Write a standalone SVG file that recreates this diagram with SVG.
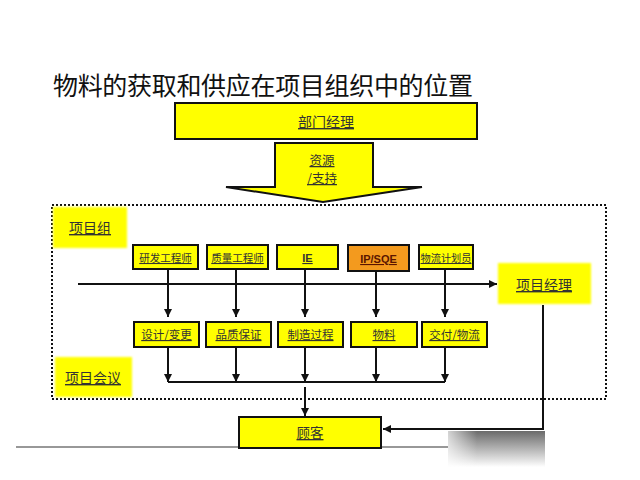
<svg xmlns="http://www.w3.org/2000/svg" width="640" height="480" viewBox="0 0 640 480">
<defs>
<style>
.t{font-family:"Noto Sans CJK SC","Liberation Sans",sans-serif;fill:#333;text-anchor:middle;text-decoration:underline;}
.box{fill:#ffff00;stroke:#111;stroke-width:2;}
.soft{fill:#ffff00;filter:url(#blur);}
.ln{fill:none;stroke:#111;stroke-width:2;}
</style>
<filter id="blur" x="-10%" y="-10%" width="120%" height="120%"><feGaussianBlur stdDeviation="1.2"/></filter>
<marker id="ah" viewBox="0 0 10 10" refX="10" refY="5" markerWidth="8" markerHeight="8" markerUnits="userSpaceOnUse" orient="auto"><path d="M0,0 L10,5 L0,10 Z" fill="#111"/></marker>
<linearGradient id="sh" x1="0" y1="0" x2="0" y2="1"><stop offset="0" stop-color="#6a6a6a"/><stop offset="1" stop-color="#ffffff"/></linearGradient>
<linearGradient id="shx" x1="0" y1="0" x2="1" y2="0"><stop offset="0" stop-color="#fff" stop-opacity="0.7"/><stop offset="0.3" stop-color="#fff" stop-opacity="0"/></linearGradient>
</defs>
<rect width="640" height="480" fill="#fff"/>
<text x="53" y="95" font-family="'Noto Sans CJK SC',sans-serif" font-size="25" fill="#111" textLength="420">物料的获取和供应在项目组织中的位置</text>

<line x1="16" y1="447" x2="448" y2="447" stroke="#333" stroke-width="1.2"/>
<g id="shadow"><rect x="448" y="431" width="97" height="36" fill="url(#sh)"/><rect x="448" y="431" width="97" height="36" fill="url(#shx)"/></g>

<rect x="52" y="205" width="554" height="194" fill="none" stroke="#111" stroke-width="2" stroke-dasharray="2,2"/>

<g id="dept"><rect class="box" x="175" y="103" width="302" height="36"/><text class="t" x="326" y="127" font-size="14">部门经理</text></g>
<g id="support"><path d="M275,143 H373 V187 H422 L323,202 L226,187 H275 Z" class="box"/><text class="t" x="322" y="165" font-size="12.5">资源</text><text class="t" x="322" y="183" font-size="12.5">/支持</text></g>

<g id="grp"><rect class="soft" x="53" y="207" width="74" height="41"/><text class="t" x="90" y="233" font-size="14">项目组</text></g>
<g id="meet"><rect class="soft" x="55" y="357" width="77" height="40"/><text class="t" x="93" y="383" font-size="14">项目会议</text></g>
<g id="pm"><rect class="soft" x="498" y="263" width="93" height="41"/><text class="t" x="544" y="290" font-size="14">项目经理</text></g>

<g id="connectors">
<path class="ln" d="M78,284 H497" marker-end="url(#ah)"/>
<path class="ln" d="M168,269 V317" marker-end="url(#ah)"/>
<path class="ln" d="M236,269 V317" marker-end="url(#ah)"/>
<path class="ln" d="M305,269 V317" marker-end="url(#ah)"/>
<path class="ln" d="M376,271 V317" marker-end="url(#ah)"/>
<path class="ln" d="M445,269 V317" marker-end="url(#ah)"/>
<path class="ln" d="M168,347 V382" marker-end="url(#ah)"/>
<path class="ln" d="M236,347 V382" marker-end="url(#ah)"/>
<path class="ln" d="M305,347 V382" marker-end="url(#ah)"/>
<path class="ln" d="M376,347 V382" marker-end="url(#ah)"/>
<path class="ln" d="M445,347 V382" marker-end="url(#ah)"/>
<path class="ln" d="M168,382 H445"/>
<path class="ln" d="M305,387 V416" marker-end="url(#ah)"/>
<path class="ln" d="M543,305 V429 H383" marker-end="url(#ah)"/>
</g>

<g id="rd"><rect class="box" x="133" y="245" width="65" height="24"/><text class="t" x="165.5" y="262" font-size="10.5">研发工程师</text></g>
<g id="qe"><rect class="box" x="207" y="245" width="61" height="24"/><text class="t" x="237.5" y="262" font-size="10.5">质量工程师</text></g>
<g id="ie"><rect class="box" x="277" y="245" width="61" height="24"/><text class="t" x="307.5" y="262" font-size="11" font-weight="bold" style="font-family:'Liberation Sans',sans-serif">IE</text></g>
<g id="ip"><rect class="box" x="348" y="245" width="61" height="26" style="fill:#f39a1e"/><text class="t" x="378.5" y="263" font-size="11" font-weight="bold" style="font-family:'Liberation Sans',sans-serif;fill:#5a1500">IP/SQE</text></g>
<g id="lp"><rect class="box" x="419" y="245" width="54" height="24"/><text class="t" x="446" y="262" font-size="10.2">物流计划员</text></g>

<g id="dc"><rect class="box" x="134" y="322" width="65" height="25"/><text class="t" x="166.5" y="339" font-size="11.5">设计/变更</text></g>
<g id="qa"><rect class="box" x="206" y="322" width="65" height="25"/><text class="t" x="238.5" y="339" font-size="11.5">品质保证</text></g>
<g id="mp"><rect class="box" x="278" y="322" width="65" height="25"/><text class="t" x="310.5" y="339" font-size="11.5">制造过程</text></g>
<g id="mat"><rect class="box" x="351" y="322" width="66" height="25"/><text class="t" x="384" y="339" font-size="11.5">物料</text></g>
<g id="dl"><rect class="box" x="422" y="322" width="65" height="25"/><text class="t" x="454.5" y="339" font-size="11.5">交付/物流</text></g>

<g id="cust"><rect class="box" x="239" y="417" width="142" height="31"/><text class="t" x="310" y="438" font-size="13.5">顾客</text></g>
</svg>
